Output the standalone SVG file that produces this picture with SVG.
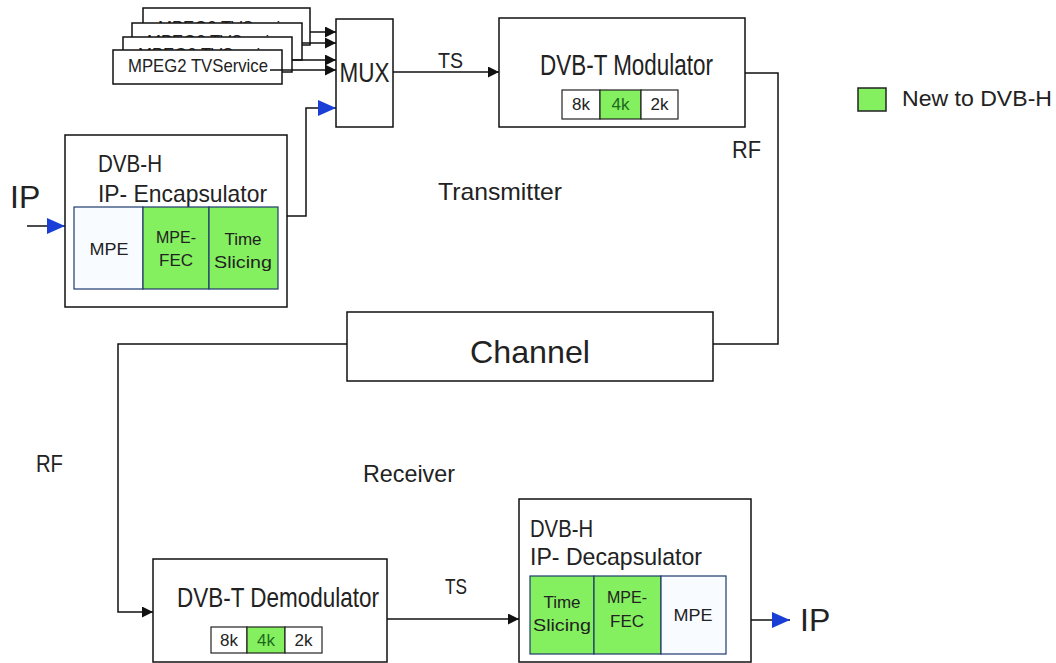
<svg xmlns="http://www.w3.org/2000/svg" width="1056" height="663" viewBox="0 0 1056 663">
<defs>
<style>
text{font-family:"Liberation Sans",Arial,sans-serif;fill:#222}
.box{fill:#fff;stroke:#111;stroke-width:1.5}
.ln{fill:none;stroke:#111;stroke-width:1.5}
.cell{stroke:#1f3a6e;stroke-width:1.2}
.g{fill:#84f060}
.w{fill:#f8fbff}
.small{font-size:17px}
.k{fill:#fff;stroke:#222;stroke-width:1.2}
.kg{fill:#84f060;stroke:#222;stroke-width:1.2}
.svc{font-size:19px}
</style>
<clipPath id="c1"><rect x="143" y="8" width="167" height="15"/></clipPath>
<clipPath id="c2"><rect x="132" y="23" width="170" height="14"/></clipPath>
<clipPath id="c3"><rect x="123" y="37" width="169" height="13"/></clipPath>
<marker id="ab" markerWidth="11" markerHeight="11" refX="11" refY="5.5" orient="auto" markerUnits="userSpaceOnUse"><path d="M0,0 L11,5.5 L0,11 Z" fill="#111"/></marker>
<marker id="abl" markerWidth="18" markerHeight="16" refX="18" refY="8" orient="auto" markerUnits="userSpaceOnUse"><path d="M0,0 L18,8 L0,16 Z" fill="#1a3fd6"/></marker>
</defs>

<g id="services">
<rect class="box" x="143" y="8" width="167" height="37"/>
<text class="svc" x="158" y="34" textLength="140" lengthAdjust="spacingAndGlyphs" clip-path="url(#c1)">MPEG2 TVService</text>
<rect class="box" x="132" y="23" width="170" height="37"/>
<text class="svc" x="147" y="48" textLength="140" lengthAdjust="spacingAndGlyphs" clip-path="url(#c2)">MPEG2 TVService</text>
<rect class="box" x="123" y="37" width="169" height="35"/>
<text class="svc" x="138" y="61" textLength="140" lengthAdjust="spacingAndGlyphs" clip-path="url(#c3)">MPEG2 TVService</text>
<rect class="box" x="113" y="50" width="169" height="34"/>
<text class="svc" x="128" y="72" textLength="140" lengthAdjust="spacingAndGlyphs">MPEG2 TVService</text>
</g>

<g id="mux">
<rect class="box" x="336" y="19" width="57" height="108"/>
<text x="364.5" y="82" font-size="27" text-anchor="middle" textLength="50" lengthAdjust="spacingAndGlyphs">MUX</text>
</g>

<g id="modulator">
<rect class="box" x="499" y="18" width="246" height="109"/>
<text x="540" y="75" font-size="30" textLength="173" lengthAdjust="spacingAndGlyphs">DVB-T Modulator</text>
<rect class="k" x="562" y="90" width="38" height="29"/>
<rect class="kg" x="600" y="90" width="41" height="29"/>
<rect class="k" x="641" y="90" width="37" height="29"/>
<text class="small" x="581" y="110" text-anchor="middle">8k</text>
<text class="small" x="620.5" y="110" text-anchor="middle" style="fill:#1d6a1d">4k</text>
<text class="small" x="659.5" y="110" text-anchor="middle">2k</text>
</g>

<g id="legend">
<rect x="858" y="88" width="28" height="23" fill="#84f060" stroke="#222" stroke-width="1.5"/>
<text x="902" y="106" font-size="22" textLength="150" lengthAdjust="spacingAndGlyphs">New to DVB-H</text>
</g>

<g id="encapsulator">
<rect class="box" x="65" y="135" width="222" height="172"/>
<text x="98" y="172" font-size="24" textLength="64" lengthAdjust="spacingAndGlyphs">DVB-H</text>
<text x="98" y="202" font-size="24" textLength="169" lengthAdjust="spacingAndGlyphs">IP- Encapsulator</text>
<rect class="cell w" x="74" y="207" width="69" height="82"/>
<rect class="cell g" x="143" y="207" width="66" height="82"/>
<rect class="cell g" x="209" y="207" width="69" height="82"/>
<text class="small" x="109" y="255" text-anchor="middle" textLength="39" lengthAdjust="spacingAndGlyphs">MPE</text>
<text class="small" x="176" y="243" text-anchor="middle" textLength="40" lengthAdjust="spacingAndGlyphs">MPE-</text>
<text class="small" x="176" y="266" text-anchor="middle" textLength="34" lengthAdjust="spacingAndGlyphs">FEC</text>
<text class="small" x="243" y="245" text-anchor="middle">Time</text>
<text class="small" x="243" y="268" text-anchor="middle" textLength="58" lengthAdjust="spacingAndGlyphs">Slicing</text>
</g>

<g id="ip-in">
<text x="10" y="208" font-size="32">IP</text>
</g>

<g id="channel">
<rect class="box" x="347" y="312" width="366" height="69"/>
<text x="530" y="363" font-size="32" text-anchor="middle" textLength="120" lengthAdjust="spacingAndGlyphs">Channel</text>
</g>

<g id="demodulator">
<rect class="box" x="153" y="559" width="234" height="103"/>
<text x="177" y="607" font-size="28" textLength="202" lengthAdjust="spacingAndGlyphs">DVB-T Demodulator</text>
<rect class="k" x="211" y="627" width="36" height="26"/>
<rect class="kg" x="247" y="627" width="38" height="26"/>
<rect class="k" x="285" y="627" width="37" height="26"/>
<text class="small" x="229" y="646" text-anchor="middle">8k</text>
<text class="small" x="266" y="646" text-anchor="middle" style="fill:#1d6a1d">4k</text>
<text class="small" x="303.5" y="646" text-anchor="middle">2k</text>
</g>

<g id="decapsulator">
<rect class="box" x="519" y="499" width="232" height="163"/>
<text x="530" y="537" font-size="24" textLength="63" lengthAdjust="spacingAndGlyphs">DVB-H</text>
<text x="530" y="565" font-size="24" textLength="172" lengthAdjust="spacingAndGlyphs">IP- Decapsulator</text>
<rect class="cell g" x="530" y="576" width="64" height="78"/>
<rect class="cell g" x="594" y="576" width="67" height="78"/>
<rect class="cell w" x="661" y="576" width="65" height="78"/>
<text class="small" x="562" y="608" text-anchor="middle">Time</text>
<text class="small" x="562" y="631" text-anchor="middle" textLength="58" lengthAdjust="spacingAndGlyphs">Slicing</text>
<text class="small" x="627" y="603" text-anchor="middle" textLength="40" lengthAdjust="spacingAndGlyphs">MPE-</text>
<text class="small" x="627" y="627" text-anchor="middle" textLength="34" lengthAdjust="spacingAndGlyphs">FEC</text>
<text class="small" x="693" y="621" text-anchor="middle" textLength="39" lengthAdjust="spacingAndGlyphs">MPE</text>
</g>

<g id="ip-out">
<text x="800" y="631" font-size="32">IP</text>
</g>

<g id="labels">
<text x="438" y="68" font-size="22" textLength="25" lengthAdjust="spacingAndGlyphs">TS</text>
<text x="445" y="594" font-size="22" textLength="22" lengthAdjust="spacingAndGlyphs">TS</text>
<text x="732" y="158" font-size="24" textLength="29" lengthAdjust="spacingAndGlyphs">RF</text>
<text x="36" y="472" font-size="24" textLength="27" lengthAdjust="spacingAndGlyphs">RF</text>
<text x="438" y="200" font-size="24" textLength="124" lengthAdjust="spacingAndGlyphs">Transmitter</text>
<text x="363" y="482" font-size="24" textLength="92" lengthAdjust="spacingAndGlyphs">Receiver</text>
</g>

<g id="connectors">
<path class="ln" d="M310,32 H336" marker-end="url(#ab)"/>
<path class="ln" d="M302,43 H336" marker-end="url(#ab)"/>
<path class="ln" d="M292,60 H336" marker-end="url(#ab)"/>
<path class="ln" d="M270,70 H336" marker-end="url(#ab)"/>
<path class="ln" d="M287,216 H306 V108 H336" marker-end="url(#abl)"/>
<path class="ln" d="M27,226 H65" marker-end="url(#abl)"/>
<path class="ln" d="M393,72 H499" marker-end="url(#ab)"/>
<path class="ln" d="M745,73 H778 V344 H713"/>
<path class="ln" d="M347,344 H118 V612 H153" marker-end="url(#ab)"/>
<path class="ln" d="M387,619 H519" marker-end="url(#ab)"/>
<path class="ln" d="M751,620 H790" marker-end="url(#abl)"/>
</g>
</svg>
